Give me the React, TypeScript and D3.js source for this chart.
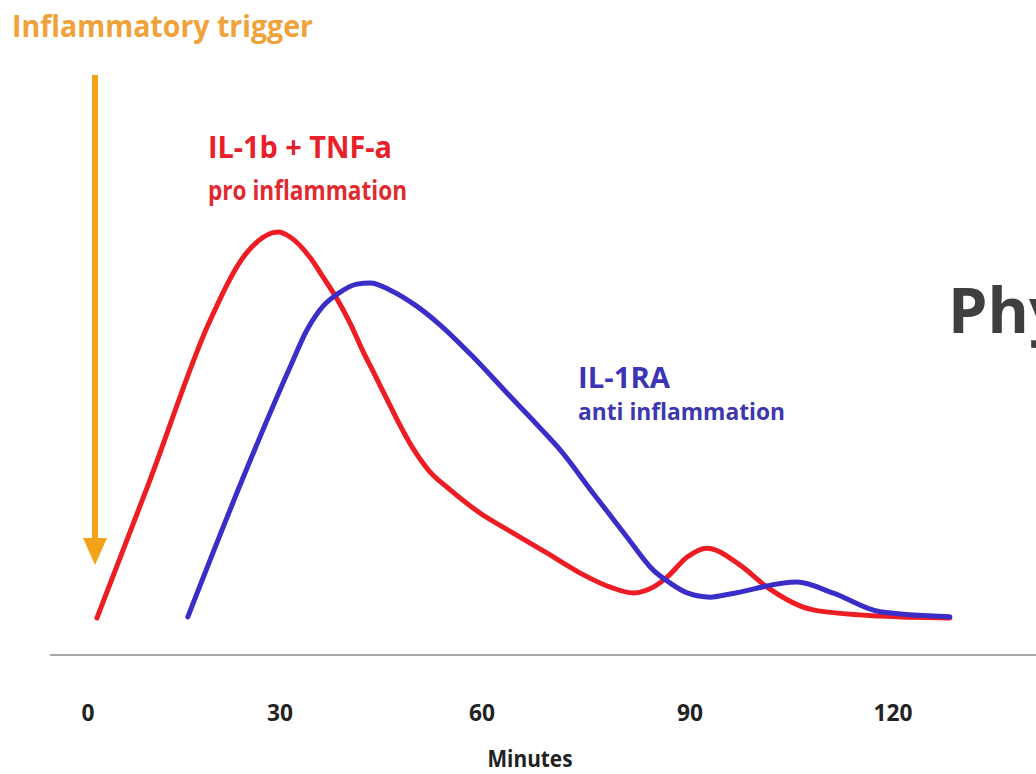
import React from "react";
import * as d3 from "d3";

// x tick positions (minutes)
const tickMinutes = [0, 30, 60, 90, 120];
const tickLabels = ["0", "30", "60", "90", "120"];

// IL-1b + TNF-a (pro inflammation) — minutes / relative level
const redMinutes = [1.4, 9.7, 19.1, 24.5, 29.7, 31.5, 34.5, 36.4, 38.5, 40.4, 42.3, 44.4, 46.3, 47.8, 49.8, 52.3, 54.8, 59.7, 64.5, 69.4, 74.1, 78.5, 81.8, 84.7, 86.7, 89.6, 92.5, 97.4, 101.4, 108.2, 118.1, 128.4];
const redValues = [0, 35.8, 77.2, 94.0, 100, 98.7, 93.3, 88.3, 82.6, 76.4, 69.2, 61.9, 55.2, 50.0, 43.8, 37.8, 33.9, 27.2, 22.0, 16.8, 11.7, 8.0, 6.5, 8.0, 10.6, 15.8, 18.1, 13.7, 8.0, 2.1, 0.5, 0];

// IL-1RA (anti inflammation)
const blueMinutes = [15.6, 24.1, 31.5, 34.0, 36.4, 38.5, 41.4, 43.4, 46.3, 50.3, 53.8, 58.7, 63.6, 68.4, 71.3, 76.0, 80.9, 84.7, 87.1, 89.6, 93.0, 95.9, 105.8, 111.1, 118.1, 128.4];
const blueValues = [0.3, 35.8, 65.0, 74.6, 80.8, 83.9, 86.5, 86.8, 85.0, 80.8, 75.9, 67.6, 58.3, 49.2, 43.5, 32.4, 21.0, 12.4, 9.1, 6.5, 5.4, 6.2, 9.3, 6.5, 1.6, 0.3];

const W = 1036;
const H = 774;

export default function App() {
  const x = d3
    .scaleLinear()
    .domain([0, 30, 60, 90, 120, 130])
    .range([88, 280, 482, 690, 893, 960.7]);
  const y = d3.scaleLinear().domain([0, 100]).range([618, 232]);

  const line = d3
    .line<[number, number]>()
    .x((d) => x(d[0]))
    .y((d) => y(d[1]))
    .curve(d3.curveMonotoneX);

  const redPts: [number, number][] = redMinutes.map((m, i) => [m, redValues[i]]);
  const bluePts: [number, number][] = blueMinutes.map((m, i) => [m, blueValues[i]]);

  const font = "'Open Sans', 'DejaVu Sans', sans-serif";

  return (
    <svg
      width={W}
      height={H}
      style={{ position: "absolute", left: 0, top: 0, background: "#fff" }}
      fontFamily={font}
      fontWeight="bold"
    >
      <rect x={0} y={0} width={W} height={H} fill="#fff" />
      {/* Inflammatory trigger */}
      <text x={12} y={37} fontSize={31} fill="#f0a23a" textLength={301} lengthAdjust="spacingAndGlyphs">
        Inflammatory trigger
      </text>
      <line x1={95} x2={95} y1={75} y2={540} stroke="#f5a21b" strokeWidth={6} />
      <path d="M83,538 L107,538 L95,565 Z" fill="#f5a21b" />

      {/* axis baseline */}
      <line x1={50} x2={W} y1={655} y2={655} stroke="#a8a8a8" strokeWidth={2} />

      {/* curves */}
      <path d={line(redPts) || ""} fill="none" stroke="#ee1d23" strokeWidth={5} strokeLinecap="round" strokeLinejoin="round" />
      <path d={line(bluePts) || ""} fill="none" stroke="#3a2dc8" strokeWidth={5} strokeLinecap="round" strokeLinejoin="round" />

      {/* labels */}
      <text x={208} y={158} fontSize={31} fill="#e8202a" textLength={184} lengthAdjust="spacingAndGlyphs">
        IL-1b + TNF-a
      </text>
      <text x={208} y={200} fontSize={26} fill="#e02a30" textLength={199} lengthAdjust="spacingAndGlyphs">
        pro inflammation
      </text>
      <text x={578} y={388} fontSize={28} fill="#3d33b5" textLength={92} lengthAdjust="spacingAndGlyphs">
        IL-1RA
      </text>
      <text x={578} y={420} fontSize={24} fill="#3d37b0" textLength={207} lengthAdjust="spacingAndGlyphs">
        anti inflammation
      </text>

      <text x={948} y={333} fontSize={63} fill="#3e3f3f">
        Phy
      </text>

      {/* x ticks */}
      {tickMinutes.map((t, i) => (
        <text
          key={t}
          x={x(t)}
          y={721}
          fontSize={24}
          fill="#222"
          textAnchor="middle"
          textLength={13 * tickLabels[i].length}
          lengthAdjust="spacingAndGlyphs"
        >
          {tickLabels[i]}
        </text>
      ))}
      <text x={530} y={767} fontSize={24} fill="#222" textAnchor="middle" textLength={85} lengthAdjust="spacingAndGlyphs">
        Minutes
      </text>
    </svg>
  );
}
